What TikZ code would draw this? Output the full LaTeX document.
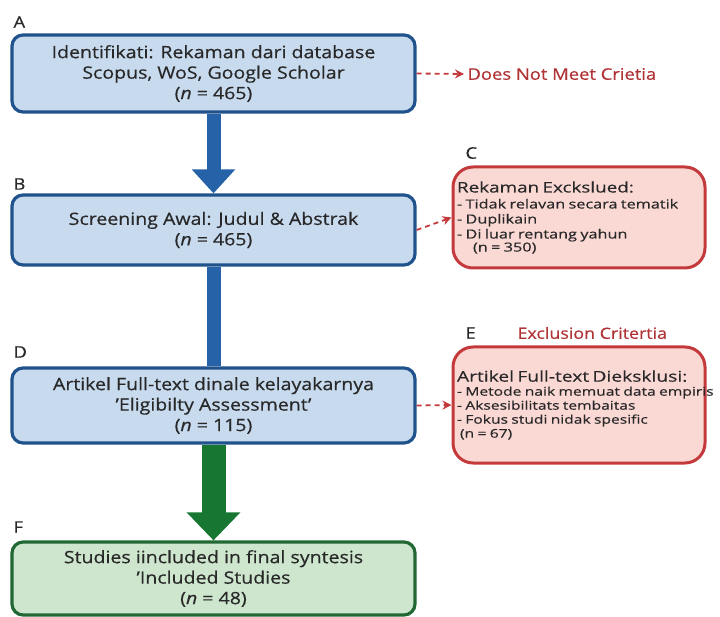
\documentclass[tikz,border=0pt]{standalone}
\usepackage{fontspec}
\setmainfont[FakeStretch=1.15, FakeBold=0.5]{Open Sans}
\newfontfamily\listfont[FakeStretch=1.3, FakeBold=0.4]{Open Sans}
\usetikzlibrary{arrows.meta}
\definecolor{boxblue}{RGB}{200,218,238}
\definecolor{lineblue}{RGB}{32,82,140}
\definecolor{arrowblue}{RGB}{38,98,168}
\definecolor{boxred}{RGB}{250,216,212}
\definecolor{linered}{RGB}{196,58,60}
\definecolor{boxgreen}{RGB}{206,230,206}
\definecolor{linegreen}{RGB}{34,104,52}
\definecolor{arrowgreen}{RGB}{22,118,50}
\definecolor{inktext}{RGB}{40,40,40}

\begin{document}
\begin{tikzpicture}[x=1pt, y=-1pt,
    stagebox/.style={draw=lineblue, fill=boxblue, line width=3.2pt, rounded corners=11pt,
      minimum width=403pt, align=center, text=inktext,
      font=\fontsize{17}{20.5}\selectfont},
    keptbox/.style={stagebox, draw=linegreen, fill=boxgreen},
    outbox/.style={draw=linered, fill=boxred, line width=3pt, rounded corners=20pt,
      minimum width=252pt, text width=244pt, inner xsep=4pt, align=left, text=inktext},
    tag/.style={anchor=west, text=inktext, font=\fontsize{16}{18}\selectfont},
    redtext/.style={text=linered!90!black, font=\fontsize{15.5}{17}\selectfont},
    skip/.style={draw=linered, dashed, line width=1.8pt, dash pattern=on 5pt off 4pt,
      -{Stealth[length=9pt,width=9pt]}},
    flow/.style={draw=arrowblue, line width=14pt, -{Triangle[width=42pt,length=24pt]}}
  ]
\useasboundingbox (0,0) rectangle (720,617);

%%% main stages %%%
\node[stagebox, minimum height=77pt] (ident) at (213.5,73.5)
  {Identifikati: Rekaman dari database\\ Scopus, WoS, Google Scholar\\ (\textit{n} = 465)};
\node[stagebox, minimum height=70pt] (screen) at (213.5,230)
  {Screening Awal: Judul \& Abstrak\\ (\textit{n} = 465)};
\node[stagebox, minimum height=75pt] (elig) at (213.5,405.5)
  {Artikel Full-text dinale kelayakarnya\\ 'Eligibilty Assessment'\\ (\textit{n} = 115)};
\node[keptbox, minimum height=73pt] (incl) at (213.5,578.5)
  {Studies iincluded in final syntesis\\ 'Included Studies\\ (\textit{n} = 48)};

%% excluded records
\node[outbox, minimum height=101pt] (exrec) at (579,217.5)
  {\listfont{\fontsize{14.5}{17}\selectfont Rekaman Exckslued:}\\[1pt]
   \fontsize{12.5}{15}\selectfont
   - Tidak relavan secara tematik\\ - Duplikain\\ - Di luar rentang yahun\\ \hspace*{16pt}(n = 350)};
\node[outbox, minimum height=116pt] (exfull) at (579,405)
  {\listfont{\fontsize{14.8}{17}\selectfont \mbox{Artikel Full-text Dieksklusi:}}\\[0pt]
   \fontsize{12}{14}\selectfont
   \mbox{- Metode naik memuat data empiris}\\ - Aksesibilitats tembaitas\\ - Fokus studi nidak spesific\\ \hspace*{3pt}(n = 67)\\[12pt]};

%% letters
\node[tag] (tagA) at (10,22) {A};
\node[tag] (tagB) at (10,184) {B};
\node[tag] (tagC) at (462,153) {C};
\node[tag] (tagD) at (10,352) {D};
\node[tag] (tagE) at (462,333) {E};
\node[tag] (tagF) at (10,527) {F};
\node[redtext, anchor=west] (crit) at (514,333) {Exclusion Critertia};
\node[redtext, anchor=west, font=\fontsize{16}{17}\selectfont] (nomeet) at (464,74) {Does Not Meet Crietia};

%% connectors
\draw[flow] (ident.south) -- (screen.north);
\draw[arrowblue, line width=14pt] (screen.south) -- (elig.north);
\draw[flow, draw=arrowgreen, line width=24pt, -{Triangle[width=52pt,length=28pt]}]
  (elig.south) -- (incl.north);
\draw[skip] (ident.east) -- (nomeet.west);
\draw[skip] (screen.east) -- (exrec.west);
\draw[skip] (elig.east) -- (exfull.west);

\end{tikzpicture}
\end{document}
